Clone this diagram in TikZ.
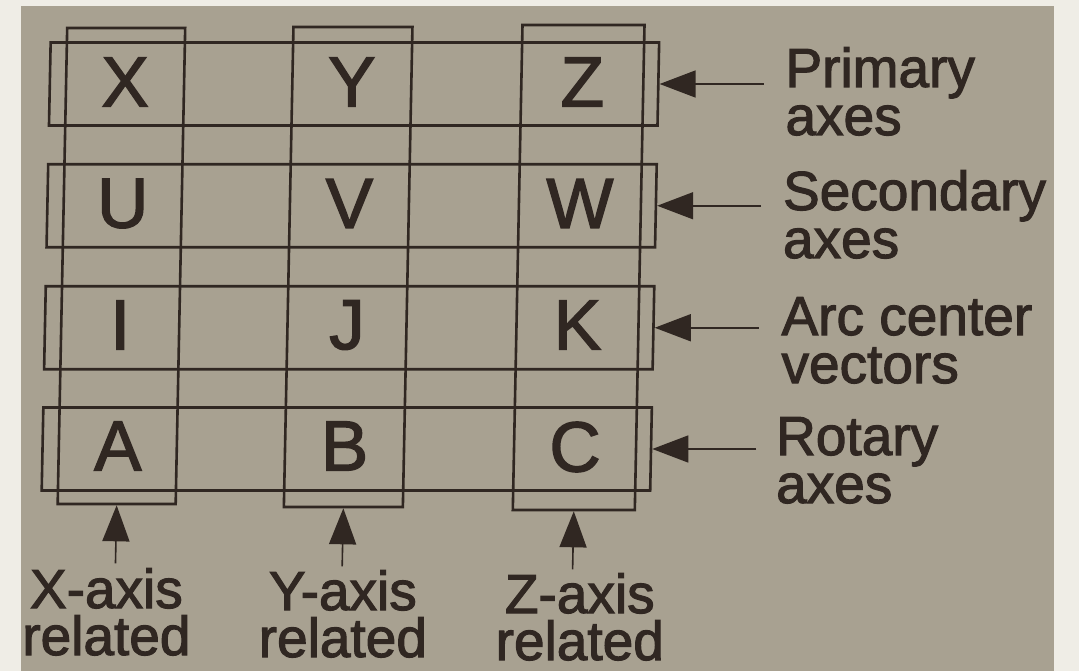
\documentclass[tikz,border=0pt]{standalone}
\usepackage{fontspec}
\setmainfont{Liberation Sans}[FakeBold=2]
\usetikzlibrary{arrows.meta}
\definecolor{ink}{RGB}{48,39,34}
\definecolor{paper}{RGB}{168,161,145}
\definecolor{desk}{RGB}{239,237,230}
\tikzset{
  boxline/.style={draw=ink, line width=2.6pt, transform shape, inner sep=0pt},
  colbox/.style 2 args={boxline, minimum width=#1, minimum height=#2},
  rowbox/.style={boxline, minimum width=608.5pt, minimum height=83pt},
  letter/.style={font=\fontsize{71}{71}\selectfont, text=ink, inner sep=0pt},
  sidelbl/.style={font=\fontsize{55}{48}\selectfont, text=ink, inner sep=0pt, align=left, anchor=base west},
  botlbl/.style={font=\fontsize{55}{47}\selectfont, text=ink, inner sep=0pt, align=center, anchor=base},
  arr/.style={draw=ink, line width=1.6pt, -{Triangle[length=36pt,width=27pt]}},
}
\begin{document}
\begin{tikzpicture}[x=1pt,y=-1pt]
\useasboundingbox (0,0) rectangle (1079,671);
\fill[desk] (0,0) rectangle (1079,671);
\fill[paper] (21,6) rectangle (1054,671);
\begin{scope}[xslant=0.02]
  % column boxes
  \node[colbox={118pt}{476pt}] (cx) at (126.75,266) {};
  \node[colbox={119pt}{480pt}] (cy) at (353.5,267) {};
  \node[colbox={122pt}{485pt}] (cz) at (584,267.5) {};
  % row boxes
  \node[rowbox] (r1) at (355.75,84) {};
  \node[rowbox] (r2) at (355.75,205.75) {};
  \node[rowbox] (r3) at (355.75,327.75) {};
  \node[rowbox] (r4) at (355.75,449) {};
  % letters
  \node[letter] (lX) at (126.75,82) {X};
  \node[letter] (lY) at (353.5,82) {Y};
  \node[letter] (lZ) at (584,82) {Z};
  \node[letter] (lU) at (126.75,203.5) {U};
  \node[letter] (lV) at (353.5,203.5) {V};
  \node[letter] (lW) at (584,203.5) {W};
  \node[letter] (lI) at (126.75,325) {I};
  \node[letter] (lJ) at (353.5,325) {J};
  \node[letter] (lK) at (584,325) {K};
  \node[letter] (lA) at (126.75,446) {A};
  \node[letter] (lB) at (353.5,446) {B};
  \node[letter] (lC) at (584,447) {C};
  % side labels (anchored at the baseline of the last line)
  \node[sidelbl] (p1) at (788,135) {Primary\\axes};
  \node[sidelbl] (p2) at (788,258) {Secondary\\axes};
  \node[sidelbl] (p3) at (789,383) {Arc center\\vectors};
  \node[sidelbl] (p4) at (786,503) {Rotary\\axes};
  % side arrows
  \path (r1.east) ++(104,0) coordinate (t1);
  \path (r2.east) ++(104,0) coordinate (t2);
  \path (r3.east) ++(104,0) coordinate (t3);
  \path (r4.east) ++(104,0) coordinate (t4);
  \draw[arr] (t1) -- (r1.east);
  \draw[arr] (t2) -- (r2.east);
  \draw[arr] (t3) -- (r3.east);
  \draw[arr] (t4) -- (r4.east);
  % bottom labels
  \node[botlbl] (bx) at (119.5,655) {X-axis\\related};
  \node[botlbl] (by) at (356,657) {Y-axis\\related};
  \node[botlbl] (bz) at (593,660) {Z-axis\\related};
  % bottom arrows
  \path (cx.south) ++(0,58) coordinate (sx);
  \path (cy.south) ++(0,58) coordinate (sy);
  \path (cz.south) ++(0,58) coordinate (sz);
  \draw[arr] (sx) -- (cx.south);
  \draw[arr] (sy) -- (cy.south);
  \draw[arr] (sz) -- (cz.south);
\end{scope}
\end{tikzpicture}
\end{document}
